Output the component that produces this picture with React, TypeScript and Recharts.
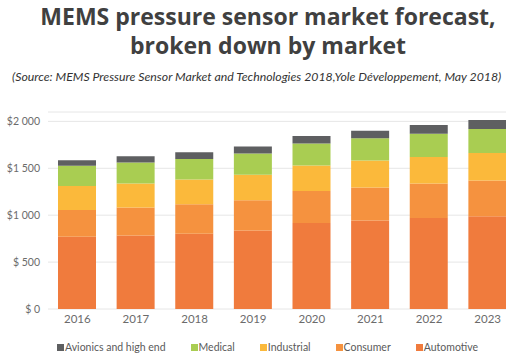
import React from 'react';
import { BarChart, Bar, XAxis, YAxis, CartesianGrid } from 'recharts';

const years = ['2016', '2017', '2018', '2019', '2020', '2021', '2022', '2023'];
const automotive = [770, 784, 801, 837, 918, 944, 971, 989];
const consumer = [284, 298, 316, 323, 341, 351, 366, 380];
const industrial = [256, 255, 263, 270, 270, 287, 284, 294];
const medical = [216, 224, 220, 227, 234, 237, 248, 256];
const avionics = [60, 67, 70, 76, 82, 82, 92, 96];
const yTicks = [0, 500, 1000, 1500, 2000];

// bottom to top in the stack
const series = [
  { key: 'automotive', name: 'Automotive', color: '#f07b3d', values: automotive },
  { key: 'consumer', name: 'Consumer', color: '#f5923f', values: consumer },
  { key: 'industrial', name: 'Industrial', color: '#fbb93b', values: industrial },
  { key: 'medical', name: 'Medical', color: '#a9cd52', values: medical },
  { key: 'avionics', name: 'Avionics and high end', color: '#5e5f61', values: avionics },
];

const data = years.map((year, i) => {
  const row: any = { year };
  series.forEach((s) => {
    row[s.key] = s.values[i];
  });
  return row;
});

const fmtMoney = (v: number) => {
  if (v === 0) return '$ 0';
  if (v < 1000) return '$ ' + v;
  const th = Math.floor(v / 1000);
  const rest = String(v % 1000).padStart(3, '0');
  return '$' + th + ' ' + rest;
};

const font = 'Lato, "Open Sans", sans-serif';

const App = () => (
  <div
    style={{
      position: 'absolute',
      left: 0,
      top: 0,
      width: 506,
      height: 357,
      overflow: 'hidden',
      background: '#fff',
      fontFamily: font,
    }}
  >
    <div
      style={{
        position: 'absolute',
        left: 0,
        top: 2,
        width: 536,
        textAlign: 'center',
        fontFamily: '"Open Sans", sans-serif',
        fontWeight: 700,
        fontSize: 23,
        lineHeight: '29px',
        color: '#404040',
      }}
    >
      MEMS pressure sensor market forecast,
      <br />
      broken down by market
    </div>
    <div
      style={{
        position: 'absolute',
        left: 12,
        top: 69,
        width: 500,
        whiteSpace: 'nowrap',
        fontStyle: 'italic',
        fontSize: 12.3,
        color: '#333',
      }}
    >
      (Source: MEMS Pressure Sensor Market and Technologies 2018,Yole Développement, May 2018)
    </div>

    <div style={{ position: 'absolute', left: 0, top: 0 }}>
      <BarChart
        width={517}
        height={357}
        data={data}
        margin={{ top: 112, right: 0, bottom: 18, left: 0 }}
      >
        <CartesianGrid vertical={false} stroke="#e6e6e6" />
        <XAxis
          dataKey="year"
          axisLine={false}
          tickLine={false}
          height={30}
          tickSize={4}
          tick={{ fill: '#6b6b6b', fontSize: 11.5, fontFamily: font }}
        />
        <YAxis
          width={48}
          domain={[0, 2100]}
          ticks={yTicks}
          axisLine={false}
          tickLine={false}
          tickFormatter={fmtMoney}
          tick={{ fill: '#6b6b6b', fontSize: 10.5, fontFamily: font }}
        />
        {series.map((s) => (
          <Bar
            key={s.key}
            dataKey={s.key}
            name={s.name}
            stackId="a"
            fill={s.color}
            barSize={38}
            isAnimationActive={false}
          />
        ))}
      </BarChart>
    </div>

    <div
      style={{
        position: 'absolute',
        left: 57,
        top: 341,
        display: 'flex',
        gap: 25,
        fontSize: 10.5,
        color: '#5a5a5a',
        whiteSpace: 'nowrap',
      }}
    >
      {[...series].reverse().map((s) => (
        <div key={s.key} style={{ display: 'flex', alignItems: 'center' }}>
          <span
            style={{
              display: 'inline-block',
              width: 7,
              height: 7,
              background: s.color,
              marginRight: 1,
            }}
          />
          {s.name}
        </div>
      ))}
    </div>
  </div>
);

export default App;
